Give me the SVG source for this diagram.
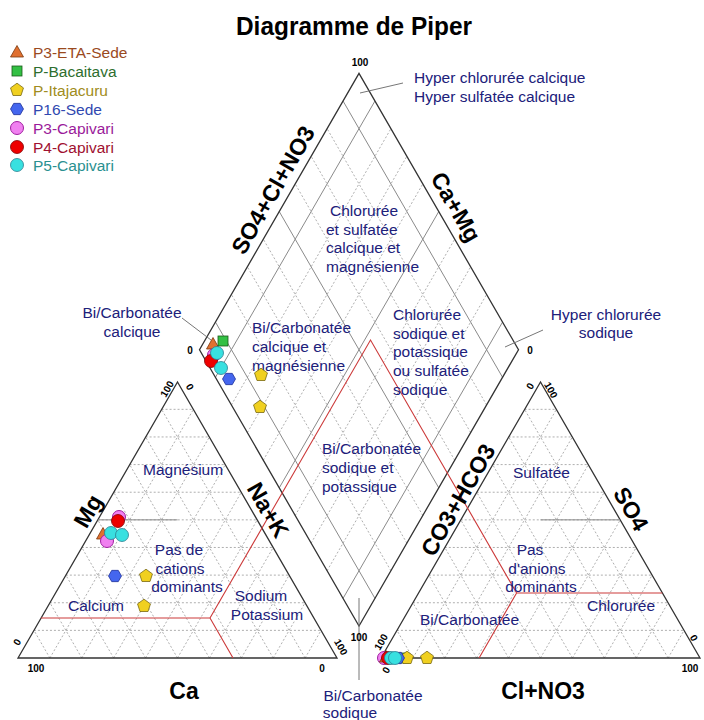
<svg xmlns="http://www.w3.org/2000/svg" width="704" height="720" viewBox="0 0 704 720">
<defs>
<style>
text{font-family:"Liberation Sans",Arial,sans-serif}
.title{font-size:26px;font-weight:bold;fill:#000}
.ax{font-size:23px;font-weight:bold;fill:#000}
.tk{font-size:10px;font-weight:bold;fill:#000}
.zn{font-size:15.5px;fill:#20207a}
.lg{font-size:15.5px}
.outline{fill:none;stroke:#333;stroke-width:1.3}
.dot{fill:none;stroke:#9a9a9a;stroke-width:0.8;stroke-dasharray:2 2}
.solid{fill:none;stroke:#8a8a8a;stroke-width:1}
.red{fill:none;stroke:#cc3a3a;stroke-width:1.1}
.ptr{fill:none;stroke:#777;stroke-width:1}
.m-or{fill:#e07030;stroke:#7a3a10;stroke-width:0.8}
.m-gr{fill:#33c044;stroke:#1a5a1a;stroke-width:0.8}
.m-ye{fill:#f0d020;stroke:#7a6a10;stroke-width:0.8}
.m-bl{fill:#4466ee;stroke:#223399;stroke-width:0.8}
.m-mg{fill:#f080f0;stroke:#a020a0;stroke-width:1}
.m-rd{fill:#ee0000;stroke:#800000;stroke-width:0.8}
.m-cy{fill:#38e0e0;stroke:#2a8090;stroke-width:0.8}
</style>
<path id="tri" d="M0,-6.5 L6.5,5 L-6.5,5 Z"/>
<rect id="sq" x="-5" y="-5" width="10" height="10"/>
<path id="pent" d="M0,-6.8 L6.47,-2.1 L4,5.5 L-4,5.5 L-6.47,-2.1 Z"/>
<path id="hex" d="M6.5,0 L3.25,5.63 L-3.25,5.63 L-6.5,0 L-3.25,-5.63 L3.25,-5.63 Z"/>
<circle id="cir" r="6.5"/>
<g id="trigrid">
<path class="dot" d="M33.95,630.37H321.05 M49.9,602.74H305.1 M65.85,575.11H289.15 M81.8,547.48H273.2 M97.75,519.85H257.25 M113.7,492.22H241.3 M129.65,464.59H225.35 M145.6,436.96H209.4 M161.55,409.33H193.45 M49.9,658L193.45,409.33 M81.8,658L209.4,436.96 M113.7,658L225.35,464.59 M145.6,658L241.3,492.22 M177.5,658L257.25,519.85 M209.4,658L273.2,547.48 M241.3,658L289.15,575.11 M273.2,658L305.1,602.74 M305.1,658L321.05,630.37 M49.9,658L33.95,630.37 M81.8,658L49.9,602.74 M113.7,658L65.85,575.11 M145.6,658L81.8,547.48 M177.5,658L97.75,519.85 M209.4,658L113.7,492.22 M241.3,658L129.65,464.59 M273.2,658L145.6,436.96 M305.1,658L161.55,409.33"/>
<path class="outline" d="M18,658 L337,658 L177.5,382 Z"/>
</g>
</defs>
<rect width="704" height="720" fill="#fff"/>

<text class="title" x="236" y="35" textLength="236" lengthAdjust="spacingAndGlyphs">Diagramme de Piper</text>

<g id="legend">
<use href="#tri" x="17" y="52" class="m-or"/><text class="lg" x="33" y="57.5" fill="#9a4a1e">P3-ETA-Sede</text>
<use href="#sq" x="17" y="71" class="m-gr"/><text class="lg" x="33" y="76.5" fill="#2e6e2e">P-Bacaitava</text>
<use href="#pent" x="17" y="90" class="m-ye"/><text class="lg" x="33" y="95.5" fill="#a08c20">P-Itajacuru</text>
<use href="#hex" x="17" y="109" class="m-bl"/><text class="lg" x="33" y="114.5" fill="#3048b0">P16-Sede</text>
<use href="#cir" x="17" y="128" class="m-mg"/><text class="lg" x="33" y="133.5" fill="#9a1a9a">P3-Capivari</text>
<use href="#cir" x="17" y="147" class="m-rd"/><text class="lg" x="33" y="152.5" fill="#a01030">P4-Capivari</text>
<use href="#cir" x="17" y="165" class="m-cy"/><text class="lg" x="33" y="170.5" fill="#2a9090">P5-Capivari</text>
</g>

<g id="cation-triangle">
<use href="#trigrid"/>
<path class="solid" d="M97.75,519.85H177.5"/>
</g>

<g id="anion-triangle">
<use href="#trigrid" transform="translate(363,0)"/>
<path class="solid" d="M540.5,519.85H620.1"/>
</g>

<g id="diamond">
<path class="dot" d="M327.1,570.74L486.6,294.44 M311.15,543.11L470.65,266.81 M295.2,515.48L454.7,239.18 M263.3,460.22L422.8,183.92 M247.35,432.59L406.85,156.29 M231.4,404.96L390.9,128.66 M390.9,570.74L231.4,294.44 M406.85,543.11L247.35,266.81 M422.8,515.48L263.3,239.18 M454.7,460.22L295.2,183.92 M470.65,432.59L311.15,156.29 M486.6,404.96L327.1,128.66"/>
<path class="solid" d="M343.05,598.37L502.55,322.07 M374.95,598.37L215.45,322.07 M279.25,487.85L438.75,211.55 M438.75,487.85L279.25,211.55 M215.45,377.33L374.95,101.03 M502.55,377.33L343.05,101.03"/>
<path class="outline" d="M359,73.4 L518.5,349.7 L359,626 L199.5,349.7 Z"/>
</g>

<g id="connectors">
<path class="red" d="M41,618H210 M210,618L233,658 M210,618L370.5,340 L516.6,593 M516.6,593H662.3 M516.6,593L479.1,658"/>
<path class="ptr" d="M360,93L403,83 M505,347L543,330 M182,318L211,340 M359,598V680"/>
</g>

<g id="axis-labels">
<text class="ax" text-anchor="middle" dominant-baseline="central" transform="translate(273,190) rotate(-60)">SO4+Cl+NO3</text>
<text class="ax" text-anchor="middle" dominant-baseline="central" transform="translate(456,207) rotate(60)">Ca+Mg</text>
<text class="ax" text-anchor="middle" dominant-baseline="central" transform="translate(88,511) rotate(-60)">Mg</text>
<text class="ax" text-anchor="middle" dominant-baseline="central" transform="translate(268,510) rotate(60)">Na+K</text>
<text class="ax" text-anchor="middle" dominant-baseline="central" transform="translate(458,500) rotate(-60)">CO3+HCO3</text>
<text class="ax" text-anchor="middle" dominant-baseline="central" transform="translate(631,509) rotate(60)">SO4</text>
<text class="ax" text-anchor="middle" x="184" y="699">Ca</text>
<text class="ax" text-anchor="middle" x="543" y="699">Cl+NO3</text>
</g>

<g id="ticks">
<text class="tk" text-anchor="middle" x="360" y="66">100</text>
<text class="tk" text-anchor="middle" x="190" y="354">0</text>
<text class="tk" text-anchor="middle" x="530" y="354">0</text>
<text class="tk" text-anchor="middle" x="359" y="641">100</text>
<text class="tk" text-anchor="middle" dominant-baseline="central" transform="translate(167,389) rotate(-60)">100</text>
<text class="tk" text-anchor="middle" dominant-baseline="central" transform="translate(190,387) rotate(60)">0</text>
<text class="tk" text-anchor="middle" dominant-baseline="central" transform="translate(17,642) rotate(-60)">0</text>
<text class="tk" text-anchor="middle" dominant-baseline="central" transform="translate(341,647) rotate(60)">100</text>
<text class="tk" text-anchor="middle" x="36" y="672">100</text>
<text class="tk" text-anchor="middle" x="322" y="672">0</text>
<text class="tk" text-anchor="middle" dominant-baseline="central" transform="translate(530,386) rotate(-60)">0</text>
<text class="tk" text-anchor="middle" dominant-baseline="central" transform="translate(551,390) rotate(60)">100</text>
<text class="tk" text-anchor="middle" dominant-baseline="central" transform="translate(381,642) rotate(-60)">100</text>
<text class="tk" text-anchor="middle" dominant-baseline="central" transform="translate(694,638) rotate(60)">0</text>
<text class="tk" text-anchor="middle" dominant-baseline="central" transform="translate(386,670) rotate(-60)">0</text>
<text class="tk" text-anchor="middle" x="690" y="672">100</text>
</g>

<g id="zone-labels">
<text class="zn" x="414" y="83">Hyper chlorurée calcique</text>
<text class="zn" x="414" y="102">Hyper sulfatée calcique</text>
<text class="zn" x="330" y="216">Chlorurée</text>
<text class="zn" x="326" y="235">et sulfatée</text>
<text class="zn" x="326" y="253">calcique et</text>
<text class="zn" x="326" y="272">magnésienne</text>
<text class="zn" x="252" y="333">Bi/Carbonatée</text>
<text class="zn" x="252" y="352">calcique et</text>
<text class="zn" x="252" y="371">magnésienne</text>
<text class="zn" x="393" y="320">Chlorurée</text>
<text class="zn" x="393" y="339">sodique et</text>
<text class="zn" x="393" y="357">potassique</text>
<text class="zn" x="393" y="376">ou sulfatée</text>
<text class="zn" x="393" y="395">sodique</text>
<text class="zn" x="322" y="454">Bi/Carbonatée</text>
<text class="zn" x="322" y="473">sodique et</text>
<text class="zn" x="322" y="492">potassique</text>
<text class="zn" text-anchor="middle" x="132" y="318">Bi/Carbonatée</text>
<text class="zn" text-anchor="middle" x="132" y="337">calcique</text>
<text class="zn" text-anchor="middle" x="606" y="320">Hyper chlorurée</text>
<text class="zn" text-anchor="middle" x="606" y="338">sodique</text>
<text class="zn" x="143" y="475">Magnésium</text>
<text class="zn" text-anchor="middle" x="179" y="555">Pas de</text>
<text class="zn" text-anchor="middle" x="180" y="574">cations</text>
<text class="zn" text-anchor="middle" x="187" y="592">dominants</text>
<text class="zn" x="68" y="611">Calcium</text>
<text class="zn" text-anchor="middle" x="261" y="601">Sodium</text>
<text class="zn" text-anchor="middle" x="267" y="620">Potassium</text>
<text class="zn" x="513" y="478">Sulfatée</text>
<text class="zn" text-anchor="middle" x="530" y="555">Pas</text>
<text class="zn" text-anchor="middle" x="537" y="574">d'anions</text>
<text class="zn" text-anchor="middle" x="541" y="592">dominants</text>
<text class="zn" x="587" y="611">Chlorurée</text>
<text class="zn" x="420" y="625">Bi/Carbonatée</text>
<text class="zn" text-anchor="middle" x="373" y="701">Bi/Carbonatée</text>
<text class="zn" text-anchor="middle" x="350" y="718">sodique</text>
</g>

<g id="samples-diamond">
<use href="#tri" x="213" y="344" class="m-or"/>
<use href="#cir" x="214" y="355" class="m-mg"/>
<use href="#cir" x="211" y="361" class="m-rd"/>
<use href="#sq" x="223" y="341" class="m-gr"/>
<use href="#cir" x="217" y="353" class="m-cy"/>
<use href="#cir" x="221" y="368" class="m-cy"/>
<use href="#hex" x="229" y="379" class="m-bl"/>
<use href="#pent" x="261" y="375" class="m-ye"/>
<use href="#pent" x="260" y="407" class="m-ye"/>
</g>

<g id="samples-cation">
<use href="#tri" x="103" y="534" class="m-or"/>
<use href="#cir" x="119" y="517" class="m-mg"/>
<use href="#cir" x="107" y="541" class="m-mg"/>
<use href="#cir" x="118" y="521" class="m-rd"/>
<use href="#cir" x="111" y="533" class="m-cy"/>
<use href="#cir" x="122" y="535" class="m-cy"/>
<use href="#hex" x="115" y="576" class="m-bl"/>
<use href="#pent" x="146" y="576" class="m-ye"/>
<use href="#pent" x="144" y="606" class="m-ye"/>
</g>

<g id="samples-anion">
<use href="#sq" x="404" y="658" class="m-gr"/>
<use href="#pent" x="407" y="658" class="m-ye"/>
<use href="#pent" x="427" y="658" class="m-ye"/>
<use href="#cir" x="384" y="658" class="m-mg"/>
<use href="#tri" x="386" y="657" class="m-or"/>
<use href="#cir" x="388" y="658" class="m-rd"/>
<use href="#hex" x="398" y="658" class="m-bl"/>
<use href="#cir" x="391" y="658" class="m-cy"/>
<use href="#cir" x="395" y="658" class="m-cy"/>
</g>
</svg>
